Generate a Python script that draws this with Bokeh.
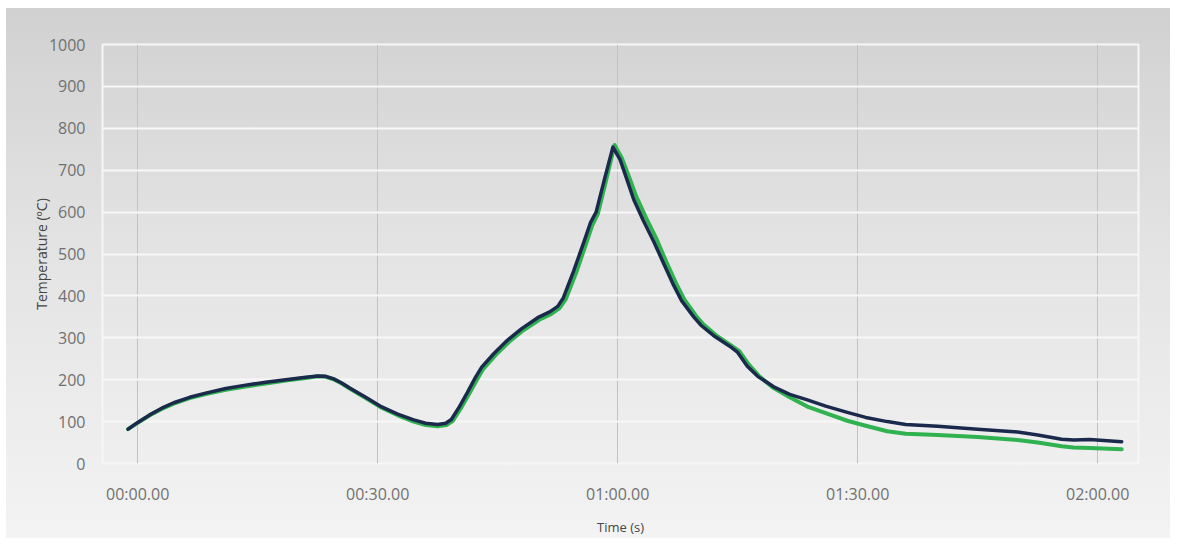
from bokeh.plotting import figure
from bokeh.models import FixedTicker, Range1d, ColumnDataSource
from bokeh.embed import file_html
from bokeh.resources import INLINE

# ---- data (time in seconds, temperature in degC) ----
navy_time = [-1.2, 0, 1.5, 3, 4.5, 6.5, 8.5, 11, 13.5, 16, 18.5, 21, 22.5, 23.5, 24.5,
             25.5, 26.5, 28.5, 30.5, 32.5, 34.5, 36, 37.5, 38.5, 39.2, 40.2, 41.2, 42.2,
             43, 44.5, 46.2, 48, 50, 51.5, 52.5, 53.2, 54.5, 55.8, 56.6, 57.3, 58.3, 59.4,
             60.3, 61.2, 62, 63.2, 64.5, 65.8, 67, 68, 69.5, 70.4, 72, 74, 75, 76.2, 77.5,
             79.5, 81.5, 83.7, 86, 88.7, 91, 93.7, 96, 100, 105, 110, 112.5, 115.5, 117,
             119, 123]
navy_temp = [82, 98, 116, 132, 145, 158, 168, 179, 187, 194, 200, 206, 209, 208, 202,
             192, 180, 158, 135, 118, 104, 96, 93, 96, 105, 135, 169, 205,
             230, 262, 294, 322, 348, 362, 375, 395, 460, 530, 575, 600, 675, 755,
             725, 675, 630, 580, 530, 475, 425, 388, 350, 330, 305, 280, 265, 232, 208,
             183, 165, 152, 137, 122, 110, 100, 93, 89, 82, 75, 68, 58, 56,
             57, 52]

green_time = [-1.2, 0, 1.5, 3, 4.5, 6.5, 8.5, 11, 13.5, 16, 18.5, 21, 22.5, 23.5, 24.5,
              25.5, 26.5, 28.5, 30.5, 32.5, 34.5, 36, 37.5, 38.6, 39.4, 40.4, 41.4, 42.4,
              43.2, 44.7, 46.4, 48.2, 50.2, 51.7, 52.7, 53.5, 54.8, 56, 56.8, 57.5, 58.5,
              59.6, 60.5, 61.4, 62.3, 63.5, 64.8, 66.1, 67.3, 68.3, 69.8, 70.7, 72.3, 74.3,
              75.2, 76.4, 77.7, 79.5, 81.5, 83.7, 86, 88.7, 91, 93.7, 96, 100, 105, 110,
              112.5, 115.5, 117, 119, 123]
green_temp = [82, 97, 115, 130, 143, 156, 166, 176, 184, 191, 198, 204, 208, 207, 201,
              191, 179, 156, 133, 115, 100, 92, 89, 92, 102, 132, 165, 200,
              226, 258, 290, 318, 343, 357, 370, 392, 455, 522, 568, 595, 672,
              760, 730, 685, 638, 588, 538, 480, 430, 392, 352, 332, 306, 280,
              268, 236, 208, 180, 158, 136, 120, 102, 90, 77, 71, 68, 63, 56,
              50, 41, 38, 37, 34]

x_ticks = [0, 30, 60, 90, 120]
x_tick_labels = ["00:00.00", "00:30.00", "01:00.00", "01:30.00", "02:00.00"]
y_ticks = [0, 100, 200, 300, 400, 500, 600, 700, 800, 900, 1000]

FONT = "Open Sans"

p = figure(width=1170, height=538, output_backend="svg", toolbar_location=None,
           x_range=Range1d(-4.4, 125.1), y_range=Range1d(0, 1000),
           min_border_left=102, min_border_right=32, min_border_top=44, min_border_bottom=73)

p.styles = {"background-image": (
    "linear-gradient(to right, #ffffff 0px, #ffffff 6px, rgba(255,255,255,0) 6px), "
    "linear-gradient(to bottom, #ffffff 0px, #ffffff 8px, #d1d1d1 8px, #e3e3e3 45%, #f3f3f3 100%)")}
p.border_fill_alpha = 0
p.background_fill_alpha = 0
p.outline_line_color = "#f6f6f6"
p.outline_line_width = 2

# grids
p.xgrid.ticker = FixedTicker(ticks=x_ticks)
p.xgrid.grid_line_color = "#c2c2c2"
p.xgrid.grid_line_width = 1
p.ygrid.ticker = FixedTicker(ticks=y_ticks)
p.ygrid.grid_line_color = "#f7f7f7"
p.ygrid.grid_line_width = 2

# axes
p.xaxis.ticker = FixedTicker(ticks=x_ticks)
p.xaxis.major_label_overrides = {t: l for t, l in zip(x_ticks, x_tick_labels)}
p.yaxis.ticker = FixedTicker(ticks=y_ticks)
for ax in (p.xaxis, p.yaxis):
    ax.axis_line_color = None
    ax.major_tick_line_color = None
    ax.minor_tick_line_color = None
    ax.major_label_text_font = FONT
    ax.major_label_text_font_size = "16px"
    ax.major_label_text_color = "#707070"
    ax.axis_label_text_font = FONT
    ax.axis_label_text_font_style = "normal"
    ax.axis_label_text_color = "#454545"
p.xaxis.axis_label_text_font_size = "13px"
p.yaxis.axis_label_text_font_size = "14px"
p.xaxis.major_label_standoff = 13
p.yaxis.major_label_standoff = 11
p.xaxis.axis_label = "Time (s)"
p.yaxis.axis_label = "Temperature (ºC)"
p.xaxis.axis_label_standoff = 10
p.yaxis.axis_label_standoff = -5

src_g = ColumnDataSource(dict(t=green_time, v=green_temp))
src_n = ColumnDataSource(dict(t=navy_time, v=navy_temp))
p.line("t", "v", source=src_g, line_color="#2fb24f", line_width=4, line_join="round", line_cap="round")
p.line("t", "v", source=src_n, line_color="#1b2a4c", line_width=3.5, line_join="round", line_cap="round")

open("out.html", "w").write(file_html(p, INLINE))
